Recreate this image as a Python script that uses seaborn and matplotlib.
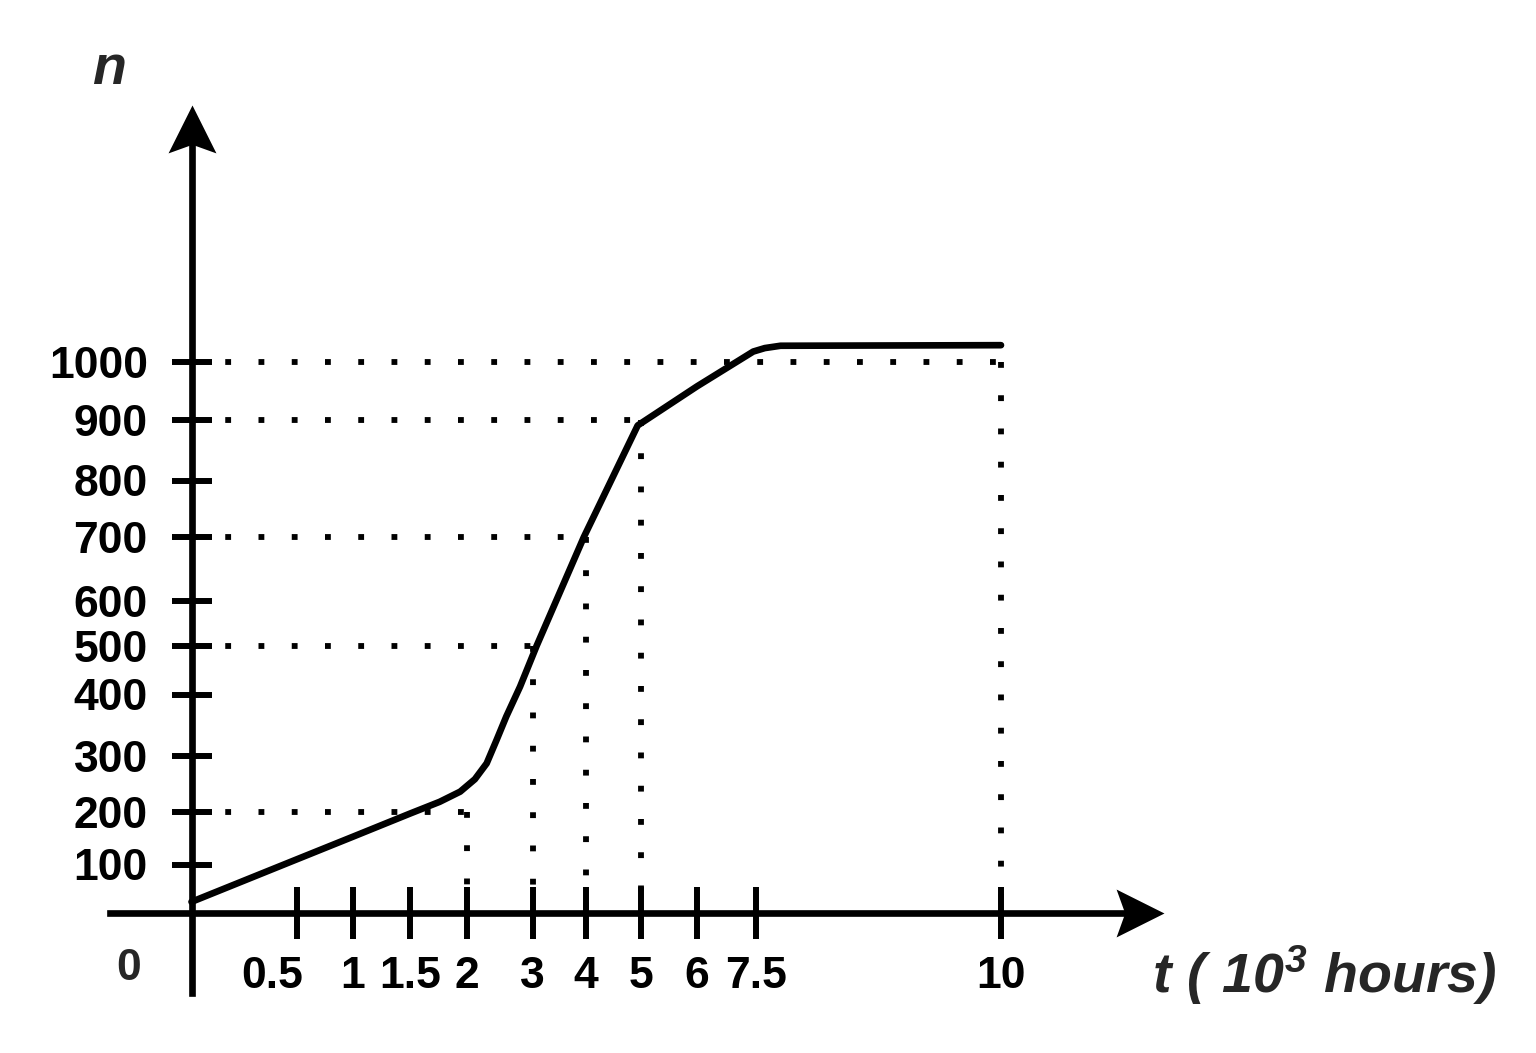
import numpy as np
import matplotlib
matplotlib.use("Agg")
import matplotlib.pyplot as plt
from matplotlib.path import Path
from matplotlib.transforms import ScaledTranslation
import seaborn as sns

# curve n(t)
t_hours = [0, 0.5, 1, 1.5, 1.76, 1.94, 2.12, 2.30, 2.45, 2.6, 2.81, 3.08, 3.96, 4.94, 6, 7.43, 7.59, 7.75, 10]
n_count = [23, 110, 153, 197, 218, 236, 258, 286, 325, 364, 416, 500, 700, 891, 958, 1018, 1024, 1028, 1029]

# dotted guide lines (t, n)
guide_t = [2, 3, 4, 5, 10]
guide_n = [200, 500, 700, 900, 1000]

x_ticks = [0.5, 1, 1.5, 2, 3, 4, 5, 6, 7.5, 10]
x_labels = ["0.5", "1", "1.5", "2", "3", "4", "5", "6", "7.5", "10"]
y_ticks = [100, 200, 300, 400, 500, 600, 700, 800, 900, 1000]

# the drawn axes are not evenly spaced, so use a piecewise linear scale
# (value -> pixels from the origin)
x_knots = [0, 0.5, 1, 1.5, 2, 3, 4, 5, 6, 7.5, 10]
x_knot_px = [0, 105.5, 161.5, 218.5, 275.5, 341, 394.5, 449.5, 505.5, 564.5, 809.5]
y_knots = [0, 100, 200, 300, 400, 500, 600, 700, 800, 900, 1000]
y_knot_px = [0, 48.5, 101, 157.5, 218.5, 267.5, 312, 376, 432.5, 493, 551]


def piecewise(src, dst):
    src = np.asarray(src, float)
    dst = np.asarray(dst, float)
    lo = (dst[1] - dst[0]) / (src[1] - src[0])
    hi = (dst[-1] - dst[-2]) / (src[-1] - src[-2])

    def f(v):
        v = np.asarray(v, float)
        out = np.interp(v, src, dst)
        out = np.where(v < src[0], dst[0] + (v - src[0]) * lo, out)
        out = np.where(v > src[-1], dst[-1] + (v - src[-1]) * hi, out)
        return out
    return f


fx, ix = piecewise(x_knots, x_knot_px), piecewise(x_knot_px, x_knots)
fy, iy = piecewise(y_knots, y_knot_px), piecewise(y_knot_px, y_knots)

sns.set_style("white")
plt.rcParams["font.family"] = ["Liberation Sans", "DejaVu Sans"]
plt.rcParams["mathtext.fontset"] = "custom"
plt.rcParams["mathtext.rm"] = "Liberation Sans:italic:bold"
plt.rcParams["mathtext.it"] = "Liberation Sans:italic:bold"
plt.rcParams["mathtext.bf"] = "Liberation Sans:italic:bold"

W, H = 1536, 1053
ox, oy = 191.5, 913  # origin in pixels
fig = plt.figure(figsize=(W / 100, H / 100), dpi=100)
ax = fig.add_axes([0, 0, 1, 1])
ax.set_xscale("function", functions=(fx, ix))
ax.set_yscale("function", functions=(fy, iy))
ax.set_xlim(float(ix(-ox)), float(ix(W - ox)))
ax.set_ylim(float(iy(oy - H)), float(iy(oy)))

lw = 4.8
dots = dict(color="black", lw=4.2, linestyle=(0, (1, 4.7)), dash_capstyle="butt", zorder=2)
for t, n in zip(guide_t, guide_n):
    ax.plot([0, t], [n, n], **dots)
    ax.plot([t, t], [n, 0], **dots)

sns.lineplot(x=t_hours, y=n_count, ax=ax, color="black", lw=lw, zorder=4)

# axes through the origin
for side in ["top", "right"]:
    ax.spines[side].set_visible(False)
for side in ["left", "bottom"]:
    ax.spines[side].set_position(("data", 0))
    ax.spines[side].set_linewidth(lw)
    ax.spines[side].set_color("black")
ax.spines["left"].set_bounds(float(iy(-80)), float(iy(oy - 140)))
ax.spines["bottom"].set_bounds(float(ix(110 - ox)), float(ix(1125 - ox)))

# arrow heads
up = Path([(0, 0), (-0.5, -1), (0, -0.82), (0.5, -1), (0, 0)],
          [Path.MOVETO, Path.LINETO, Path.LINETO, Path.LINETO, Path.CLOSEPOLY])
right = Path([(0, 0), (-1, 0.5), (-0.82, 0), (-1, -0.5), (0, 0)],
             [Path.MOVETO, Path.LINETO, Path.LINETO, Path.LINETO, Path.CLOSEPOLY])
ax.plot([0], [float(iy(oy - 105))], marker=up, ms=69, color="black", mew=0, clip_on=False, zorder=5)
ax.plot([float(ix(1164 - ox))], [0], marker=right, ms=69, color="black", mew=0, clip_on=False, zorder=5)

ax.set_xticks(x_ticks)
ax.set_xticklabels(x_labels)
ax.set_yticks(y_ticks)
ax.set_yticklabels([str(v) for v in y_ticks])
ax.xaxis.set_minor_locator(matplotlib.ticker.NullLocator())
ax.yaxis.set_minor_locator(matplotlib.ticker.NullLocator())
ax.tick_params(axis="x", bottom=True, top=False, direction="inout", length=38, width=4.3,
               pad=12, labelsize=32, colors="black")
ax.tick_params(axis="y", left=True, right=False, direction="inout", length=29, width=4.3,
               pad=17, labelsize=32, colors="black")
for lab in ax.get_xticklabels() + ax.get_yticklabels():
    lab.set_fontweight("bold")
# the "0.5" label sits a bit left of its tick in the original
lab05 = ax.get_xticklabels()[0]
lab05.set_transform(lab05.get_transform() + ScaledTranslation(-0.25, 0, fig.dpi_scale_trans))

ax.text(129 / W, 1 - 968 / H, "0", transform=ax.transAxes, fontsize=32,
        fontweight="bold", ha="center", va="center")
ax.text(109 / W, 1 - 70 / H, "n", transform=ax.transAxes, fontsize=40,
        fontweight="bold", style="italic", ha="center", va="center")
ax.text(1152 / W, 1 - 993 / H, r"$t\ (\ 10^3\ hours)$", transform=ax.transAxes,
        fontsize=40, ha="left", va="baseline")

fig.savefig("out.png", dpi=100, facecolor="white")
